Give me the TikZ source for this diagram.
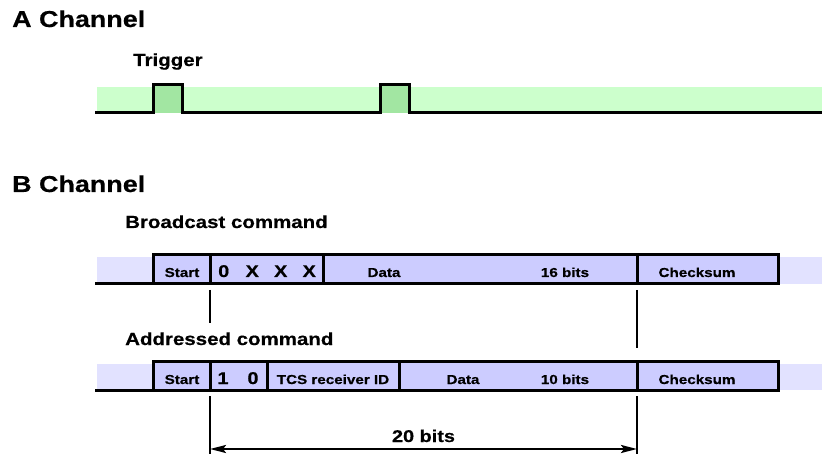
\documentclass[tikz,border=0pt]{standalone}
\usepackage{fontspec}
\setmainfont[FakeStretch=1.17, BoldFeatures={FakeBold=0.5}]{Liberation Sans}
\usetikzlibrary{arrows.meta}

\definecolor{bandgreen}{HTML}{CCFFCC}
\definecolor{pulsegreen}{HTML}{A2E6A2}
\definecolor{bandblue}{HTML}{E2E2FF}
\definecolor{boxblue}{HTML}{CCCCFF}

\tikzset{
  title/.style={anchor=base west, inner sep=0, font=\bfseries\fontsize{23}{28}\selectfont},
  sublabel/.style={anchor=base west, inner sep=0, font=\bfseries\fontsize{17.5}{21}\selectfont},
  lbl/.style={anchor=base, inner sep=0, font=\bfseries\fontsize{13}{16}\selectfont},
  biglbl/.style={anchor=base, inner sep=0, font=\bfseries\fontsize{17}{20}\selectfont},
  wave/.style={line width=3pt},
  pulse/.style={fill=pulsegreen, inner sep=0, outer sep=0, minimum height=28pt,
    minimum width=29pt, anchor=south west},
  fieldbox/.style={draw, line width=3pt, fill=boxblue, inner sep=0, outer sep=0,
    minimum height=29pt, anchor=south west},
  marker/.style={line width=2.2pt},
  dimarrow/.style={line width=2.2pt, {Stealth[length=16pt,width=8pt,inset=3pt]}-{Stealth[length=16pt,width=8pt,inset=3pt]}}
}

\begin{document}
\begin{tikzpicture}[x=1pt, y=-1pt]
\useasboundingbox (0,0) rectangle (822,454);

% ---------------- A channel ----------------
\node[title] (atitle) at (12,27) {A Channel};
\node[sublabel] (trig) at (133,66) {Trigger};

\fill[bandgreen] (97,87) rectangle (822,113);
\node[pulse] (p1) at (153,113) {};
\node[pulse] (p2) at (380,113) {};
\coordinate (as) at (95,113);
\coordinate (ae) at (822,113);
\draw[wave] (as) -- (p1.south west) -- (p1.north west) -- (p1.north east)
  -- (p1.south east) -- (p2.south west) -- (p2.north west) -- (p2.north east)
  -- (p2.south east) -- (ae);

% ---------------- B channel ----------------
\node[title] (btitle) at (12,192) {B Channel};

% broadcast command frame
\node[sublabel] (bc) at (125,228) {Broadcast command};
\fill[bandblue] (97,257) rectangle (153,284);
\fill[bandblue] (778,257) rectangle (822,284);
\coordinate (bs) at (95,284);
\draw[wave] (bs) -- (153,284);
\node[fieldbox, minimum width=57pt]  (bstart) at (153,284) {};
\node[fieldbox, minimum width=113pt] (bhead)  at (210,284) {};
\node[fieldbox, minimum width=314pt] (bdata)  at (323,284) {};
\node[fieldbox, minimum width=141pt] (bsum)   at (637,284) {};
\node[lbl] at (182,277) {Start};
\node[biglbl] at (266.5,277) {\makebox[28.5pt]{0}\makebox[28.5pt]{X}\makebox[28.5pt]{X}\makebox[28.5pt]{X}};
\node[lbl] at (384,277) {Data};
\node[lbl] at (565,277) {16 bits};
\node[lbl] at (697,277) {Checksum};

% addressed command frame
\node[sublabel] (ac) at (125,345) {Addressed command};
\fill[bandblue] (97,364) rectangle (153,390);
\fill[bandblue] (778,364) rectangle (822,390);
\coordinate (cs) at (95,390);
\draw[wave] (cs) -- (153,390);
\node[fieldbox, minimum width=57pt]  (astart) at (153,390) {};
\node[fieldbox, minimum width=57pt]  (ahead)  at (210,390) {};
\node[fieldbox, minimum width=132pt] (aid)    at (267,390) {};
\node[fieldbox, minimum width=238pt] (adata)  at (399,390) {};
\node[fieldbox, minimum width=141pt] (asum)   at (637,390) {};
\node[lbl] at (182,384) {Start};
\node[biglbl] at (238,384) {\makebox[30pt]{1}\makebox[30pt]{0}};
\node[lbl] at (333,384) {TCS receiver ID};
\node[lbl] at (463,384) {Data};
\node[lbl] at (565,384) {10 bits};
\node[lbl] at (697,384) {Checksum};

% alignment markers between the two frames
\draw[marker] ([yshift=-6pt]bhead.south west) -- ++(0,33);
\draw[marker] ([yshift=-6pt]bsum.south west) -- ++(0,58);

% frame length dimension
\coordinate (dl) at (210,454);
\coordinate (dr) at (637,454);
\draw[marker] ([yshift=-6pt]ahead.south west) -- (dl);
\draw[marker] ([yshift=-6pt]asum.south west) -- (dr);
\draw[dimarrow] ([yshift=5pt]dl) -- node[biglbl, yshift=7pt] {20 bits} ([yshift=5pt]dr);
\end{tikzpicture}
\end{document}
